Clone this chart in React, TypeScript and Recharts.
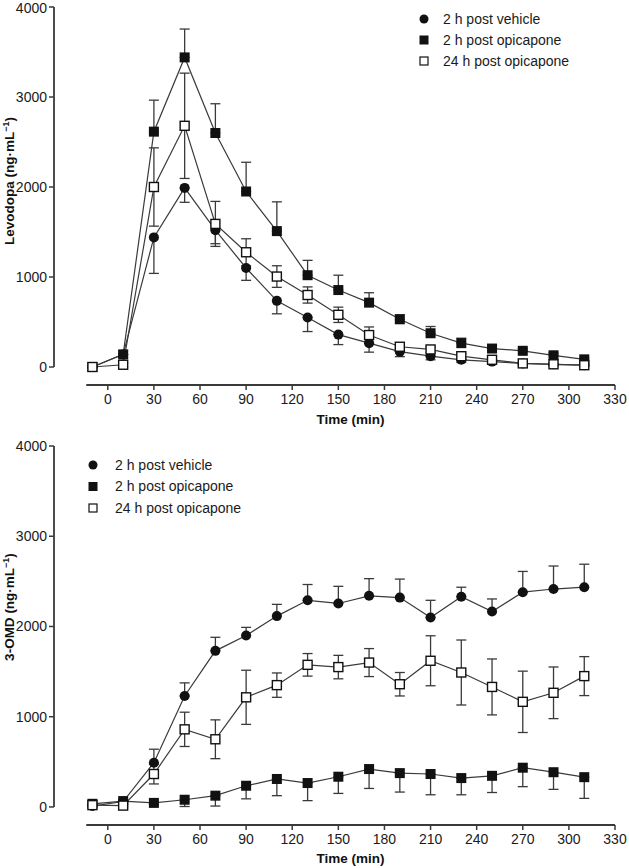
import React from 'react';
import { LineChart, Line, XAxis, YAxis, ErrorBar, ReferenceLine, Legend } from 'recharts';

// ---------- data ----------
const times = [-10, 10, 30, 50, 70, 90, 110, 130, 150, 170, 190, 210, 230, 250, 270, 290, 310];
const xTicks = [0, 30, 60, 90, 120, 150, 180, 210, 240, 270, 300, 330];
const yTicks = [0, 1000, 2000, 3000, 4000];
const seriesNames = ['2 h post vehicle', '2 h post opicapone', '24 h post opicapone'];

// Levodopa (ng/mL)
const levVehicle = [0, 140, 1440, 1990, 1520, 1100, 735, 550, 360, 265, 170, 120, 80, 60, 40, 30, 20];
const levVehicleErr = [0, 30, 400, 160, 150, 137, 144, 156, 111, 100, 55, 40, 30, 20, 15, 15, 10];
const levOpi = [0, 140, 2615, 3440, 2600, 1950, 1510, 1020, 855, 715, 530, 375, 265, 205, 180, 130, 85];
const levOpiErr = [0, 40, 350, 315, 325, 325, 325, 165, 165, 110, 50, 75, 55, 30, 25, 25, 20];
const lev24 = [0, 25, 2000, 2680, 1590, 1275, 1005, 800, 580, 355, 225, 195, 120, 80, 40, 30, 20];
const lev24Err = [0, 20, 435, 585, 250, 150, 120, 90, 85, 90, 20, 30, 30, 20, 15, 15, 10];

// 3-OMD (ng/mL)
const omdVehicle = [10, 60, 490, 1230, 1730, 1900, 2115, 2290, 2255, 2340, 2320, 2100, 2330, 2165, 2380, 2415, 2435];
const omdVehicleErr = [10, 20, 150, 145, 150, 90, 130, 175, 190, 190, 205, 190, 105, 140, 230, 255, 255];
const omdOpi = [35, 65, 45, 80, 125, 235, 310, 265, 335, 420, 375, 365, 320, 345, 435, 385, 330];
const omdOpiErr = [15, 15, 15, 75, 115, 145, 185, 195, 185, 215, 210, 230, 185, 185, 210, 190, 235];
const omd24 = [20, 15, 365, 860, 750, 1215, 1350, 1575, 1550, 1600, 1360, 1620, 1490, 1330, 1165, 1265, 1450];
const omd24Err = [10, 15, 110, 190, 215, 300, 135, 125, 130, 155, 130, 277, 360, 310, 340, 286, 216];

// ---------- helpers ----------
const FONT = "'Liberation Sans', Arial, Helvetica, sans-serif";
const INK = '#1a1a1a';
const LINE = '#3a3a3a';

type Dir = 'up' | 'down' | 'both';
const side = (e: number, dir: Dir): [number, number] =>
  dir === 'down' ? [e, 0] : dir === 'up' ? [0, e] : [e, e];

function buildRows(
  v: number[], vE: number[], vD: Dir,
  o: number[], oE: number[], oD: Dir,
  h: number[], hE: number[], hD: Dir
) {
  return times.map((t, i) => ({
    t,
    v: v[i], vErr: side(vE[i], vD),
    o: o[i], oErr: side(oE[i], oD),
    h: h[i], hErr: side(hE[i], hD),
  }));
}

const levRows = buildRows(levVehicle, levVehicleErr, 'down', levOpi, levOpiErr, 'up', lev24, lev24Err, 'both');
const omdRows = buildRows(omdVehicle, omdVehicleErr, 'up', omdOpi, omdOpiErr, 'down', omd24, omd24Err, 'both');

const CircleDot = (p: any) => {
  if (p.cx == null || p.cy == null) return <g key={p.key} />;
  return <circle key={p.key} cx={p.cx} cy={p.cy} r={5} fill="#111" />;
};
const SquareDot = (p: any) => {
  if (p.cx == null || p.cy == null) return <g key={p.key} />;
  return <rect key={p.key} x={p.cx - 5} y={p.cy - 5} width={10} height={10} fill="#111" />;
};
const OpenSquareDot = (p: any) => {
  if (p.cx == null || p.cy == null) return <g key={p.key} />;
  return (
    <rect key={p.key} x={p.cx - 4.5} y={p.cy - 4.5} width={9} height={9} fill="#fff" stroke="#111" strokeWidth={1.4} />
  );
};

const LegendMarker = ({ kind, x, y }: { kind: number; x: number; y: number }) => {
  if (kind === 0) return <circle cx={x} cy={y} r={4.5} fill="#111" />;
  if (kind === 1) return <rect x={x - 4.5} y={y - 4.5} width={9} height={9} fill="#111" />;
  return <rect x={x - 4} y={y - 4} width={8} height={8} fill="#fff" stroke="#111" strokeWidth={1.2} />;
};

type PanelProps = {
  data: any[];
  top: number;
  height: number;
  marginTop: number;
  xAxisHeight: number;
  marginBottom: number;
  yTitle: string;
  yTitleY: number;
  xTitleDy: number;
  legendX: number;
  textX: number;
  legendRows: number[];
};

const Panel = (p: PanelProps) => {
  const renderLegend = () => (
    <svg width={629} height={130} style={{ overflow: 'visible', display: 'block' }}>
      {seriesNames.map((name, i) => (
        <g key={name}>
          <LegendMarker kind={i} x={p.legendX} y={p.legendRows[i]} />
          <text x={p.textX} y={p.legendRows[i]} dy="0.35em" fontFamily={FONT} fontSize={14} fill={INK}>
            {name}
          </text>
        </g>
      ))}
    </svg>
  );

  const yTitle = () => (
    <text
      transform={`translate(9,${p.yTitleY}) rotate(-90)`}
      textAnchor="middle"
      dy="0.35em"
      fontFamily={FONT}
      fontWeight="bold"
      fontSize={13.5}
      fill="#111"
    >
      {p.yTitle} (ng·mL<tspan dy={-5} fontSize={9}>−1</tspan><tspan dy={5}>)</tspan>
    </text>
  );

  const xTitle = (props: any) => {
    const vb = props.viewBox || {};
    const cx = (vb.x ?? 0) + (vb.width ?? 0) / 2 + 16;
    return (
      <text x={cx} y={(vb.y ?? 0) + p.xTitleDy} dy="0.35em" textAnchor="middle" fontFamily={FONT} fontWeight="bold" fontSize={13.5} fill="#111">
        Time (min)
      </text>
    );
  };

  return (
    <div style={{ position: 'absolute', left: 0, top: p.top, width: 629, height: p.height }}>
      <LineChart
        width={629}
        height={p.height}
        data={p.data}
        margin={{ top: p.marginTop, right: 14, bottom: p.marginBottom, left: 0 }}
      >
        <XAxis
          type="number"
          dataKey="t"
          domain={[-35, 330]}
          ticks={xTicks}
          allowDataOverflow
          axisLine={false}
          tickLine={{ stroke: LINE, strokeWidth: 1.5 }}
          tickSize={5}
          tickMargin={4}
          height={p.xAxisHeight}
          tick={{ fontFamily: FONT, fontSize: 14, fill: INK }}
          label={{ content: xTitle }}
        />
        <YAxis
          type="number"
          domain={[-200, 4000]}
          ticks={yTicks}
          allowDataOverflow
          axisLine={false}
          tickLine={{ stroke: LINE, strokeWidth: 1.5 }}
          tickSize={5}
          tickMargin={2}
          width={54}
          tick={{ fontFamily: FONT, fontSize: 14, fill: INK }}
          label={{ content: yTitle }}
        />
        <ReferenceLine
          segment={[{ x: -35, y: 0 }, { x: -35, y: 4000 }]}
          stroke={LINE}
          strokeWidth={1.8}
          ifOverflow="visible"
        />
        <ReferenceLine
          segment={[{ x: -14, y: -200 }, { x: 330, y: -200 }]}
          stroke={LINE}
          strokeWidth={1.8}
          ifOverflow="visible"
        />
        <Legend
          layout="horizontal"
          verticalAlign="middle"
          align="center"
          content={renderLegend}
          wrapperStyle={{ left: 0, top: 0, width: 629, height: 130, pointerEvents: 'none' }}
        />
        <Line
          type="linear"
          dataKey="v"
          name={seriesNames[0]}
          stroke={LINE}
          strokeWidth={1.2}
          dot={CircleDot}
          activeDot={false}
          isAnimationActive={false}
        >
          <ErrorBar dataKey="vErr" width={5} stroke={LINE} strokeWidth={1.3} direction="y" isAnimationActive={false} />
        </Line>
        <Line
          type="linear"
          dataKey="o"
          name={seriesNames[1]}
          stroke={LINE}
          strokeWidth={1.2}
          dot={SquareDot}
          activeDot={false}
          isAnimationActive={false}
        >
          <ErrorBar dataKey="oErr" width={5} stroke={LINE} strokeWidth={1.3} direction="y" isAnimationActive={false} />
        </Line>
        <Line
          type="linear"
          dataKey="h"
          name={seriesNames[2]}
          stroke={LINE}
          strokeWidth={1.2}
          dot={OpenSquareDot}
          activeDot={false}
          isAnimationActive={false}
        >
          <ErrorBar dataKey="hErr" width={5} stroke={LINE} strokeWidth={1.3} direction="y" isAnimationActive={false} />
        </Line>
      </LineChart>
    </div>
  );
};

export default function App() {
  return (
    <div style={{ position: 'absolute', left: 0, top: 0, width: 629, height: 868, background: '#fff', overflow: 'hidden' }}>
      <Panel
        data={levRows}
        top={0}
        height={432}
        marginTop={7}
        xAxisHeight={40}
        marginBottom={7}
        yTitle="Levodopa"
        yTitleY={181}
        xTitleDy={34}
        legendX={424}
        textX={443}
        legendRows={[19, 40, 61]}
      />
      <Panel
        data={omdRows}
        top={420}
        height={448}
        marginTop={26}
        xAxisHeight={40}
        marginBottom={3}
        yTitle="3-OMD"
        yTitleY={187}
        xTitleDy={33}
        legendX={93}
        textX={115}
        legendRows={[45, 66.5, 88]}
      />
    </div>
  );
}
